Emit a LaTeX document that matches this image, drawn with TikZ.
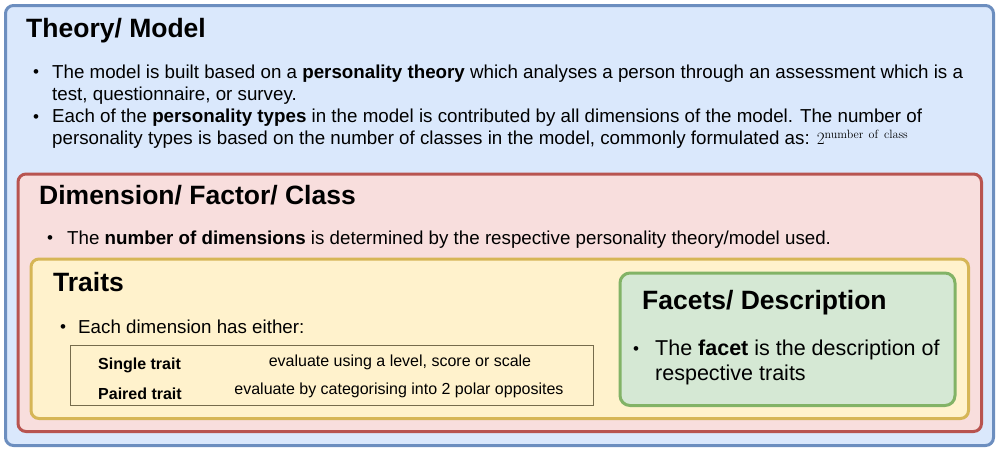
\documentclass[tikz,border=0pt]{standalone}
\usepackage[no-math]{fontspec}
\setmainfont{Liberation Sans}
\usepackage{tikz}

\definecolor{theoryfill}{HTML}{DAE8FC}
\definecolor{theoryline}{HTML}{6C8EBF}
\definecolor{dimfill}{HTML}{F8DEDD}
\definecolor{dimline}{HTML}{B85450}
\definecolor{traitfill}{HTML}{FFF2CC}
\definecolor{traitline}{HTML}{D6B656}
\definecolor{facetfill}{HTML}{D5E8D4}
\definecolor{facetline}{HTML}{82B366}
\definecolor{tableline}{HTML}{766C4C}

\DeclareMathSizes{18.75}{18.75}{12}{9}

\newcommand{\bitem}[1][18pt]{\par\noindent\hangindent=#1\hangafter=1%
  \makebox[#1][l]{\raisebox{0.02em}{\fontsize{17}{17}\selectfont\textbullet}}}

\tikzset{
  frame/.style={draw, line width=3pt, rounded corners=8pt, inner sep=0pt, anchor=north west},
  heading/.style={font=\fontsize{26.5}{30}\selectfont\bfseries, anchor=base west, inner sep=0pt},
  body/.style={font=\fontsize{18.75}{22.3}\selectfont, anchor=base west, inner sep=0pt},
  cell/.style={font=\fontsize{16}{19}\selectfont, anchor=base, inner sep=0pt}
}

\begin{document}
\begin{tikzpicture}[x=1pt, y=-1pt]
  \useasboundingbox (0,0) rectangle (996,448);

  % nested boxes
  \node[frame, draw=theoryline, fill=theoryfill, minimum width=988pt, minimum height=440pt] (theory) at (4,4) {};
  \node[frame, draw=dimline, fill=dimfill, minimum width=963.5pt, minimum height=257.5pt] (dimension) at (16.5,172.5) {};
  \node[frame, draw=traitline, fill=traitfill, minimum width=937.5pt, minimum height=159.5pt] (traits) at (29.5,257.5) {};
  \node[frame, draw=facetline, fill=facetfill, rounded corners=10pt, minimum width=335pt, minimum height=132.5pt] (facets) at (618.5,271.5) {};
  \node[draw=tableline, line width=1pt, inner sep=0pt, anchor=north west, minimum width=523pt, minimum height=60.5pt] (table) at (69.5,344.5) {};

  % theory / model
  \node[heading] (theorytitle) at (26,37) {Theory/ Model};
  \node[body] (theorytext) at (33,78) {\parbox[t]{955pt}{\raggedright
    \bitem[19pt]The model is built based on a \textbf{personality theory} which analyses a person through an assessment which is a\newline test, questionnaire, or survey.
    \bitem[19pt]Each of the \textbf{personality types} in the model is contributed by all dimensions of the model. The number of\newline personality types is based on the number of classes in the model, commonly formulated as: $2^{\mathrm{number\ of\ class}}$}};

  % dimension / factor / class
  \node[heading] (dimtitle) at (39,204) {Dimension/ Factor/ Class};
  \node[body] (dimtext) at (47,244) {\parbox[t]{930pt}{\raggedright
    \bitem[20pt]The \textbf{number of dimensions} is determined by the respective personality theory/model used.}};

  % traits
  \node[heading] (traittitle) at (53,291) {Traits};
  \node[body] (traittext) at (60,333) {\parbox[t]{500pt}{\raggedright
    \bitem[18pt]Each dimension has either:}};
  \node[cell, anchor=base west, font=\fontsize{16}{19}\selectfont\bfseries] (single) at (98,369) {Single trait};
  \node[cell] (singledesc) at (400,366) {evaluate using a level, score or scale};
  \node[cell, anchor=base west, font=\fontsize{16}{19}\selectfont\bfseries] (paired) at (98,399) {Paired trait};
  \node[cell] (paireddesc) at (399,394) {evaluate by categorising into 2 polar opposites};

  % facets / description
  \node[heading] (facettitle) at (642,309) {Facets/ Description};
  \node[body, font=\fontsize{21.5}{25}\selectfont] (facettext) at (633,355) {\parbox[t]{315pt}{\raggedright
    \bitem[22pt]The \textbf{facet} is the description of\newline respective traits}};
\end{tikzpicture}
\end{document}
